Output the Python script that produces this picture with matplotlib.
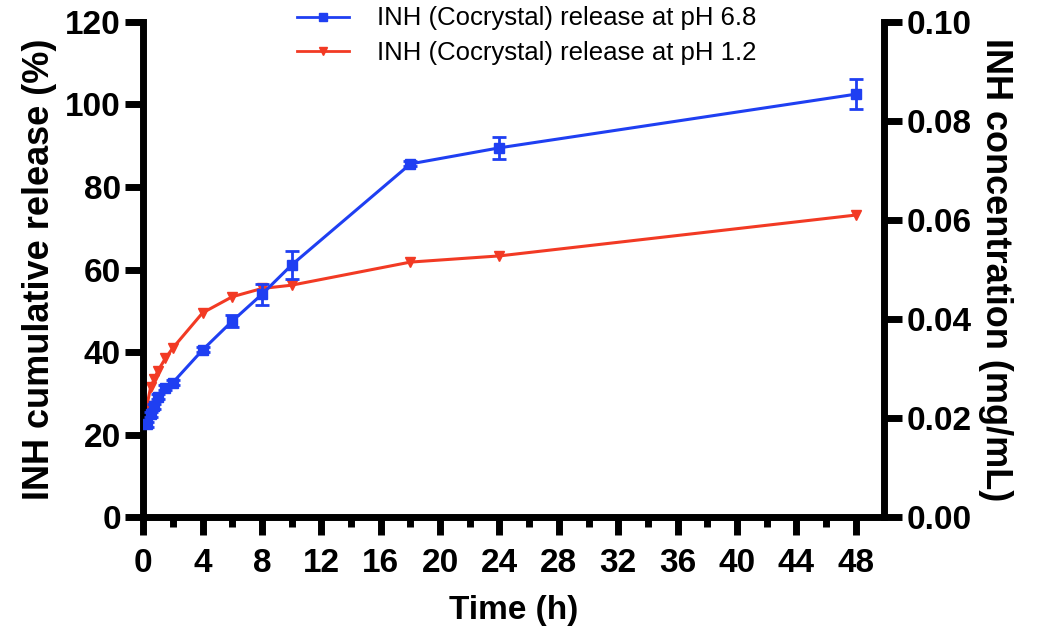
import matplotlib
matplotlib.use("Agg")
import matplotlib.pyplot as plt
from matplotlib.ticker import MultipleLocator, FormatStrFormatter
from matplotlib.lines import Line2D

# Data
time_h = [0.25, 0.5, 0.75, 1, 1.5, 2, 4, 6, 8, 10, 18, 24, 48]
ph68 = [22.5, 24.9, 26.9, 29.2, 31.3, 32.6, 40.5, 47.5, 54.0, 61.1, 85.6, 89.5, 102.5]
ph68_err = [0.6, 0.6, 0.6, 0.6, 0.6, 0.6, 0.6, 1.5, 2.6, 3.3, 0.6, 2.6, 3.7]
ph12 = [27.0, 31.5, 33.5, 35.5, 38.5, 41.0, 49.5, 53.4, 55.4, 56.2, 61.8, 63.3, 73.2]
label68 = "INH (Cocrystal) release at pH 6.8"
label12 = "INH (Cocrystal) release at pH 1.2"
x_ticks = list(range(0, 49, 4))
y_ticks = list(range(0, 121, 20))
y2_ticks = [0.00, 0.02, 0.04, 0.06, 0.08, 0.10]

blue = "#1f3ff2"
red = "#f23a24"

plt.rcParams['font.family'] = ['Liberation Sans', 'DejaVu Sans']

fig = plt.figure(figsize=(10.53, 6.41), dpi=100)
ax = fig.add_axes([0.136, 0.1934, 0.7035, 0.7723])

ax.errorbar(time_h, ph68, yerr=ph68_err, color=blue, marker='s', markersize=7,
            linewidth=2.2, elinewidth=2, capsize=5, capthick=2, zorder=3)
ax.plot(time_h, ph12, color=red, marker='v', markersize=7, linewidth=2.2, zorder=2)

ax.set_xlim(0, 49.9)
ax.set_ylim(0, 120)
ax.set_xticks(x_ticks)
ax.xaxis.set_minor_locator(MultipleLocator(2))
ax.set_yticks(y_ticks)

for s in ['top', 'right']:
    ax.spines[s].set_visible(False)
for s in ['left', 'bottom']:
    ax.spines[s].set_linewidth(5)

ax.tick_params(axis='both', which='major', length=13, width=5, labelsize=24, pad=3)
ax.tick_params(axis='x', which='major', pad=9)
ax.tick_params(axis='x', which='minor', length=7, width=5)
for lab in ax.get_xticklabels() + ax.get_yticklabels():
    lab.set_fontweight('bold')

ax.set_xlabel("Time (h)", fontsize=24, fontweight='bold', labelpad=12)
ax.set_ylabel("INH cumulative release (%)", fontsize=26, fontweight='bold', labelpad=6)

ax2 = ax.twinx()
ax2.set_ylim(0, 0.10)
ax2.set_yticks(y2_ticks)
ax2.yaxis.set_major_formatter(FormatStrFormatter('%.2f'))
for s in ['top', 'left', 'bottom']:
    ax2.spines[s].set_visible(False)
ax2.spines['right'].set_linewidth(5)
ax2.tick_params(axis='y', which='major', length=13, width=5, labelsize=24, pad=3)
for lab in ax2.get_yticklabels():
    lab.set_fontweight('bold')
ax2.set_ylabel("INH concentration (mg/mL)", fontsize=26, fontweight='bold',
               rotation=270, labelpad=30)

handles = [Line2D([], [], color=blue, marker='s', markersize=6, linewidth=2),
           Line2D([], [], color=red, marker='v', markersize=6, linewidth=2)]
leg = ax.legend(handles, [label68, label12], loc='upper left',
                bbox_to_anchor=(0.177, 1.078), frameon=False,
                fontsize=18.5, handlelength=2.0, handletextpad=1.1, labelspacing=0.4)

fig.savefig("out.png", dpi=100)
